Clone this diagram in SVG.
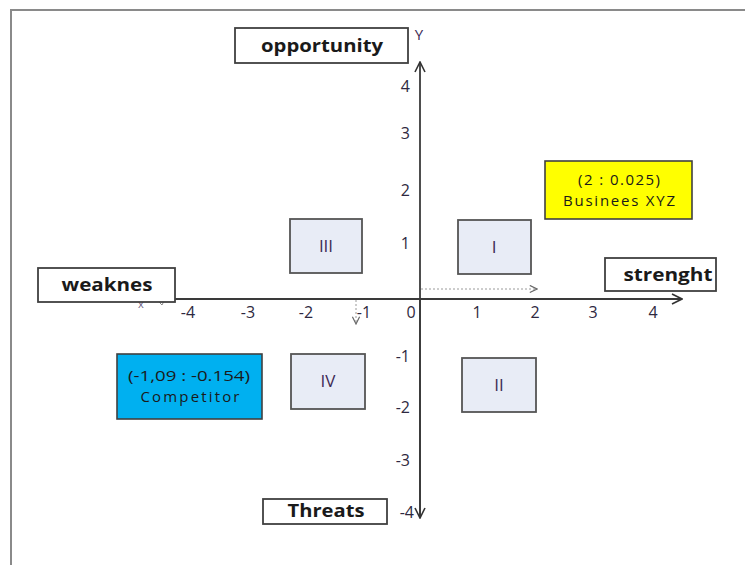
<svg xmlns="http://www.w3.org/2000/svg" width="745" height="565" viewBox="0 0 745 565">
  <defs>
    <marker id="arrow" viewBox="0 0 12 12" refX="11" refY="6" markerWidth="12" markerHeight="12" markerUnits="userSpaceOnUse" orient="auto">
      <path d="M1,1 L11,6 L1,11" fill="none" stroke="#333" stroke-width="1.6"/>
    </marker>
    <marker id="arrow-small" viewBox="0 0 10 10" refX="9" refY="5" markerWidth="9" markerHeight="9" markerUnits="userSpaceOnUse" orient="auto">
      <path d="M1,1 L9,5 L1,9" fill="none" stroke="#666" stroke-width="1.3"/>
    </marker>
  </defs>
  <style>
    .frame { fill: none; stroke: #8a8a8a; stroke-width: 2; }
    .axis { stroke: #3a3a3a; stroke-width: 1.8; fill: none; }
    .guide { stroke: #9a9a9a; stroke-width: 1; stroke-dasharray: 2 2; fill: none; }
    .label { fill: #fff; stroke: #404040; stroke-width: 1.8; }
    .quad { fill: #e8ecf6; stroke: #555; stroke-width: 1.8; }
    .point { stroke: #404040; stroke-width: 1.6; }
    .bold { font-family: "Open Sans", "Noto Sans", "DejaVu Sans", sans-serif; font-weight: bold; font-size: 17px; fill: #1a1a1a; text-anchor: middle; }
    .tick { font-family: "Open Sans", "Noto Sans", "DejaVu Sans", sans-serif; font-size: 16px; fill: #2e2840; }
    .tx { text-anchor: middle; }
    .ty { text-anchor: end; }
    .roman { font-family: "Open Sans", "Noto Sans", "DejaVu Sans", sans-serif; font-size: 17px; fill: #3d2a55; text-anchor: middle; }
    .info { font-family: "Open Sans", "Noto Sans", "DejaVu Sans", sans-serif; font-size: 15px; fill: #1a1a1a; text-anchor: middle; }
  </style>

  <rect width="745" height="565" fill="#fff"/>
  <!-- outer frame -->
  <path class="frame" d="M11,565 L11,10 L745,10"/>

  <!-- axes and guide lines -->
  <g id="connectors">
    <line class="axis" x1="175" y1="299" x2="682" y2="299" marker-end="url(#arrow)"/>
    <line class="axis" x1="420" y1="518" x2="420" y2="62" marker-end="url(#arrow)"/>
    <line class="axis" x1="420" y1="299" x2="420" y2="518" marker-end="url(#arrow)"/>
    <line class="guide" x1="421" y1="289" x2="537" y2="289" marker-end="url(#arrow-small)"/>
    <line class="guide" x1="356" y1="300" x2="356" y2="324" marker-end="url(#arrow-small)"/>
  </g>

  <!-- axis names -->
  <text x="419" y="40" font-family="Open Sans, Noto Sans, sans-serif" font-size="15" fill="#3d2a55" text-anchor="middle">Y</text>
  <text x="141" y="308" font-family="Open Sans, Noto Sans, sans-serif" font-size="11" fill="#6a5a80" text-anchor="middle">x</text>
  <path d="M158,301 L162,305 L164,301" fill="none" stroke="#888" stroke-width="1"/>

  <!-- x tick labels -->
  <g class="tick tx">
    <text x="188" y="318">-4</text>
    <text x="248" y="318">-3</text>
    <text x="306" y="318">-2</text>
    <text x="364" y="318">-1</text>
    <text x="411" y="318">0</text>
    <text x="477" y="318">1</text>
    <text x="535" y="318">2</text>
    <text x="593" y="318">3</text>
    <text x="653" y="318">4</text>
  </g>
  <!-- y tick labels -->
  <g class="tick ty">
    <text x="410" y="92">4</text>
    <text x="410" y="139">3</text>
    <text x="410" y="196">2</text>
    <text x="410" y="249">1</text>
    <text x="410" y="362">-1</text>
    <text x="410" y="413">-2</text>
    <text x="410" y="466">-3</text>
    <text x="414" y="518">-4</text>
  </g>

  <g id="opportunity">
    <rect class="label" x="235" y="28" width="173" height="35"/>
    <text class="bold" x="322" y="52" textLength="122" lengthAdjust="spacingAndGlyphs">opportunity</text>
  </g>
  <g id="weaknes">
    <rect class="label" x="38" y="268" width="137" height="34"/>
    <text class="bold" x="107" y="291" textLength="91" lengthAdjust="spacingAndGlyphs">weaknes</text>
  </g>
  <g id="strenght">
    <rect class="label" x="605" y="258" width="111" height="33"/>
    <text class="bold" x="668" y="281" textLength="89" lengthAdjust="spacingAndGlyphs">strenght</text>
  </g>
  <g id="threats">
    <rect class="label" x="263" y="499" width="124" height="25"/>
    <text class="bold" x="326" y="517" textLength="77" lengthAdjust="spacingAndGlyphs">Threats</text>
  </g>

  <g id="quadrant-3">
    <rect class="quad" x="290" y="219" width="72" height="54"/>
    <text class="roman" x="326" y="252">III</text>
  </g>
  <g id="quadrant-1">
    <rect class="quad" x="458" y="220" width="73" height="54"/>
    <text class="roman" x="494" y="253">I</text>
  </g>
  <g id="quadrant-4">
    <rect class="quad" x="291" y="354" width="74" height="55"/>
    <text class="roman" x="328" y="387">IV</text>
  </g>
  <g id="quadrant-2">
    <rect class="quad" x="462" y="358" width="74" height="54"/>
    <text class="roman" x="499" y="391">II</text>
  </g>

  <g id="competitor">
    <rect class="point" x="117" y="354" width="145" height="65" fill="#00b0f0"/>
    <text class="info" x="189" y="381" textLength="122" lengthAdjust="spacingAndGlyphs">(-1,09 : -0.154)</text>
    <text class="info" x="190" y="402" textLength="99" lengthAdjust="spacing">Competitor</text>
  </g>
  <g id="business-xyz">
    <rect class="point" x="545" y="161" width="147" height="58" fill="#ffff00"/>
    <text class="info" x="619" y="185" textLength="82" lengthAdjust="spacing">(2 : 0.025)</text>
    <text class="info" x="619" y="206" textLength="112" lengthAdjust="spacing">Businees XYZ</text>
  </g>
</svg>
